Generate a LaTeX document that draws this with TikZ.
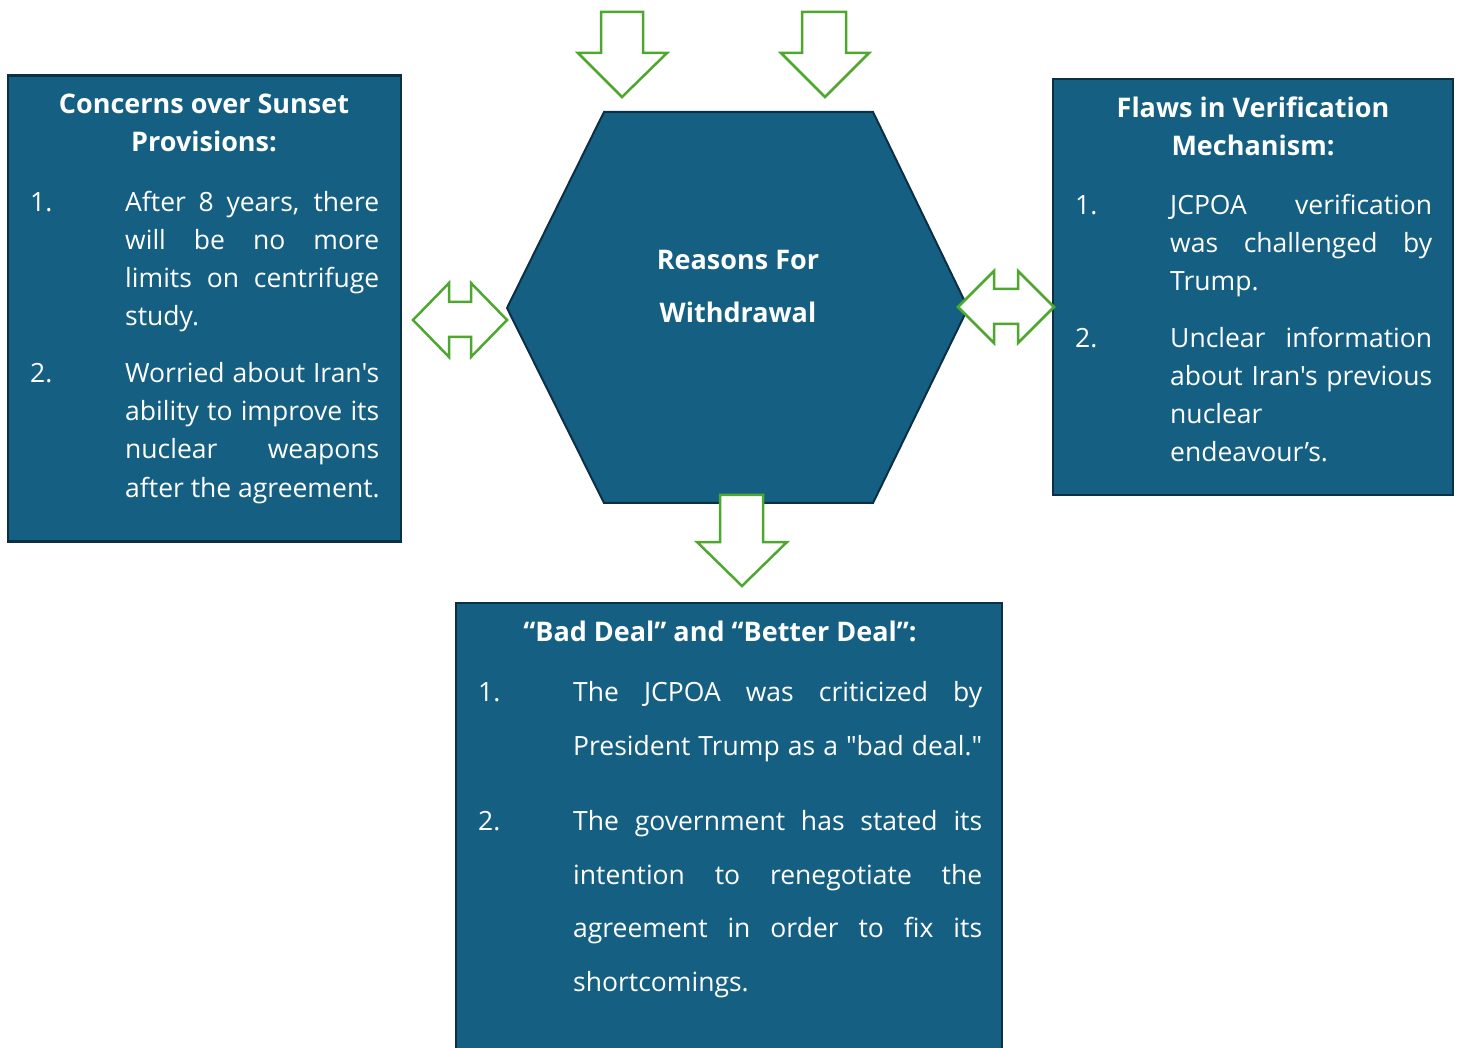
\documentclass[tikz,border=0pt]{standalone}
\usepackage{fontspec}
\setmainfont{Open Sans}[Ligatures=TeXOff]
\definecolor{boxfill}{HTML}{156082}
\definecolor{boxline}{HTML}{0B3045}
\definecolor{arrgreen}{HTML}{4EA72E}
\newcommand\jl[2]{\makebox[#1][s]{#2}}
\begin{document}
\begin{tikzpicture}[x=1pt,y=-1pt,
  panel/.style={draw=boxline,fill=boxfill,line width=2.5pt,rectangle,inner sep=0pt},
  hexline/.style={draw=boxline,fill=boxfill,line width=2pt,line join=miter},
  garrow/.style={draw=arrgreen,fill=white,line width=2.5pt,line join=miter},
  body/.style={text=white,inner sep=0pt,anchor=base west,font=\fontsize{26.5}{26.5}\selectfont},
  head/.style={text=white,inner sep=0pt,anchor=base,font=\bfseries\fontsize{27}{27}\selectfont}]
\useasboundingbox (0,0) rectangle (1460,1048);
% panels
\node[panel,minimum width=393pt,minimum height=466pt] (left) at (204.5,308.5) {};
\node[panel,minimum width=400pt,minimum height=416pt] (right) at (1253,287) {};
\node[panel,minimum width=546pt,minimum height=460pt] (bottom) at (729,833) {};
% hexagon
\path[hexline] (604,112) -- (873,112) -- (968,308) -- (873,503) -- (604,503) -- (507,308) -- cycle;
\coordinate (hex) at (738,308);
% arrows
\path[garrow] (413,320) -- (449,283) -- (449,302) -- (471,302) -- (471,283) -- (507,320)
  -- (471,357) -- (471,337) -- (449,337) -- (449,357) -- cycle;
\path[garrow] (958,307) -- (994,271) -- (994,289) -- (1018,289) -- (1018,271) -- (1054,307)
  -- (1018,343) -- (1018,324) -- (994,324) -- (994,343) -- cycle;
\path[garrow] (601,12) -- (643,12) -- (643,53) -- (667,53) -- (622,97) -- (578,53) -- (601,53) -- cycle;
\path[garrow] (802,12) -- (846,12) -- (846,53) -- (869,53) -- (825,97) -- (781,53) -- (802,53) -- cycle;
\path[garrow] (720,495) -- (763,495) -- (763,542) -- (787,542) -- (742,586) -- (697,542) -- (720,542) -- cycle;
% hexagon text
\node[head] (h1) at (738,270) {Reasons For};
\node[head] (h2) at (738,323) {Withdrawal};
% left panel text
\node[head] (lt1) at (204,114) {Concerns over Sunset};
\node[head] (lt2) at (204,152) {Provisions:};
\node[body] (ln1) at (30,212) {1.};
\node[body] (la1) at (125,212) {\jl{254pt}{After 8 years, there}};
\node[body] (la2) at (125,250) {\jl{254pt}{will be no more}};
\node[body] (la3) at (125,288) {\jl{254pt}{limits on centrifuge}};
\node[body] (la4) at (125,326) {study.};
\node[body] (ln2) at (30,383) {2.};
\node[body] (lb1) at (125,383) {\jl{254pt}{Worried about Iran's}};
\node[body] (lb2) at (125,421) {\jl{254pt}{ability to improve its}};
\node[body] (lb3) at (125,459) {\jl{254pt}{nuclear weapons}};
\node[body] (lb4) at (125,497) {after the agreement.};
% right panel text
\node[head] (rt1) at (1253,118) {Flaws in Verification};
\node[head] (rt2) at (1253,156) {Mechanism:};
\node[body] (rn1) at (1075,215) {1.};
\node[body] (ra1) at (1170,215) {\jl{262pt}{JCPOA verification}};
\node[body] (ra2) at (1170,253) {\jl{262pt}{was challenged by}};
\node[body] (ra3) at (1170,291) {Trump.};
\node[body] (rn2) at (1075,348) {2.};
\node[body] (rb1) at (1170,348) {\jl{262pt}{Unclear information}};
\node[body] (rb2) at (1170,386) {\jl{262pt}{about Iran's previous}};
\node[body] (rb3) at (1170,424) {nuclear};
\node[body] (rb4) at (1170,462) {endeavour’s.};
% bottom panel text
\node[head] (bt1) at (720,641) {“Bad Deal” and “Better Deal”:};
\node[body] (bn1) at (478,701) {1.};
\node[body] (ba1) at (573,701) {\jl{409pt}{The JCPOA was criticized by}};
\node[body] (ba2) at (573,755) {\jl{409pt}{President Trump as a "bad deal."}};
\node[body] (bn2) at (478,830) {2.};
\node[body] (bb1) at (573,830) {\jl{409pt}{The government has stated its}};
\node[body] (bb2) at (573,884) {\jl{409pt}{intention to renegotiate the}};
\node[body] (bb3) at (573,937) {\jl{409pt}{agreement in order to fix its}};
\node[body] (bb4) at (573,991) {shortcomings.};
\end{tikzpicture}
\end{document}
